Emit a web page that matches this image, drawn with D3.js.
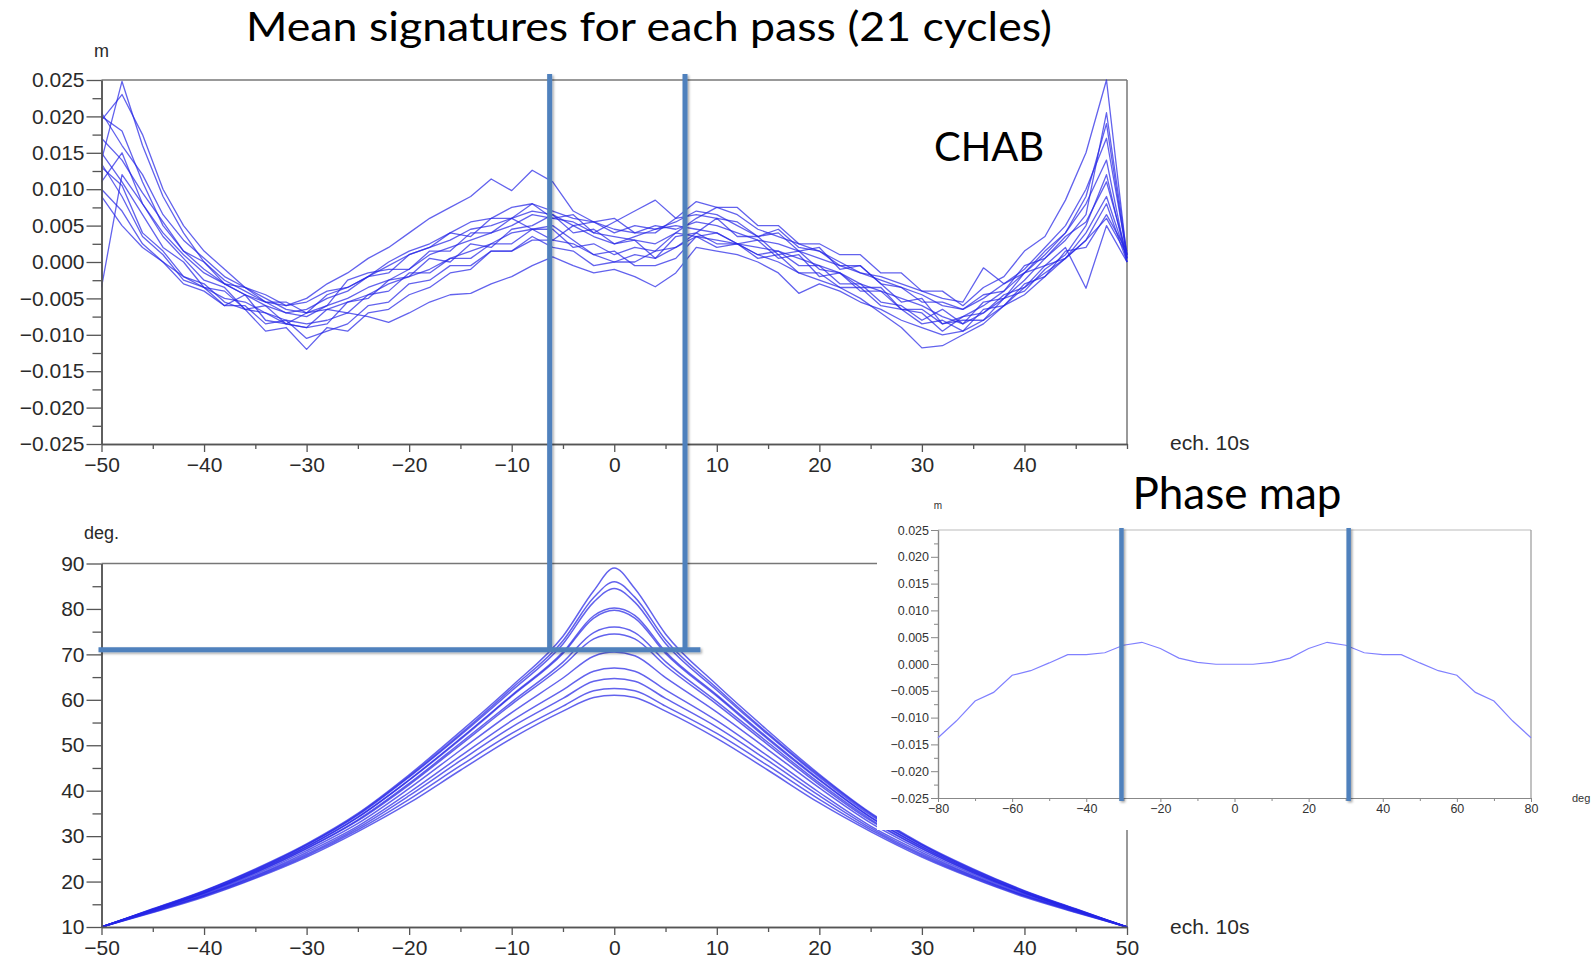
<!DOCTYPE html>
<html><head><meta charset="utf-8">
<script src="https://cdn.jsdelivr.net/npm/d3@7/dist/d3.min.js"></script>
<style>body{margin:0;background:#fff}svg{display:block}</style>
</head><body>
<svg id="c" width="1592" height="960"></svg>
<script>
// ---------- DATA ----------
// Top chart: mean signatures (values in mm, i.e. metres x 1000), sampled every 2 "ech. 10s"
const sigX = [-50,-48,-46,-44,-42,-40,-38,-36,-34,-32,-30,-28,-26,-24,-22,-20,-18,-16,-14,-12,-10,-8,-6,-4,-2,0,2,4,6,8,10,12,14,16,18,20,22,24,26,28,30,32,34,36,38,40,42,44,46,48,50];
const sig01 = [20,18,11,5,1.5,-1,-3,-4.5,-5.5,-6,-5,-3,-1.5,0.5,2,4,6,7.5,9,11.4,9.8,12.6,11,7,5.5,4,5,4.5,5.5,7,6.5,5,3.5,4,1.5,2,-1,-0.5,-3,-5.5,-5,-8.5,-7.5,-6,-4,-1.5,1,4,9,19,0.5];
const sig02 = [9,5,2,0,-2,-3.5,-5,-5.5,-7,-8,-8.5,-8,-7,-7.5,-8.3,-7,-5.5,-4.5,-4.3,-3,-2,-0.5,0.7,-0.5,-1.5,-1,-2,-3.4,-1.5,2,1.5,1,0,-1.5,-4.3,-3,-4,-5.5,-6.5,-8,-9,-10,-9.5,-8,-6,-4.5,-2,0.5,3,6,1];
const sig03 = [-3.5,12,8,3.5,0.5,-2.5,-3.5,-6.5,-6,-8.5,-9,-8.5,-5.5,-5,-2.5,-2,0.5,0,2.5,2,4.5,5,6.5,4,4.5,2.5,3,0.5,3.5,4,6,3.5,3.5,1,1.5,-1,-1.5,-3.5,-3.5,-6.5,-7,-9.5,-7.5,-7,-4.5,-3.5,-0.5,0.5,4,9,0.5];
const sig04 = [14,24.8,16,9,4,0,-2.5,-4,-5.5,-7,-7.5,-6,-5,-3.5,-2.5,-1,1,2,3,4,5,6.5,6,5.5,4,3.5,3,2.5,4,6,7.5,6.5,4.5,3.5,2.5,1.5,0,-1.5,-2.5,-3.5,-4.5,-6,-6.5,-5,-3,-1.5,1.5,4,8,14,0];
const sig05 = [13,10.5,4,1.5,-2,-3,-5.5,-6.5,-9.5,-9,-12,-9,-9.5,-7,-6.5,-4.5,-3.5,-1.5,-1,1.5,1.5,3.5,2,1.5,-0.5,0,0,1.5,2,4,2.5,2.5,0.5,1,-1.5,-1.5,-3.5,-3.5,-6,-6.5,-8.5,-8,-9.5,-6.5,-6,-3,-2,1.5,2,6.5,1.5];
const sig06 = [11,15,8,4,1,-1.5,-3,-4.5,-6,-7,-6.5,-5,-4,-2,-0.5,1,2,3,4.5,5,6,7,6.5,5,3.5,2.5,3.5,4.5,5,4.5,4,2.5,1,0,-1.5,-2.5,-3.5,-5,-7,-9,-11.8,-11.5,-10,-8.5,-6,-3.5,-1.5,0.5,3,8,0];
const sig07 = [17,14,9.5,5.5,1.5,0,-3,-3.5,-5.5,-5.5,-7,-4.5,-3.5,-2,-1.5,1,2,4,3.5,6,6,8,6,6.5,4,5.5,7,8.5,6,8.3,7.5,7.5,5,5,2.5,2.5,1,1,-1.5,-1.5,-4,-4,-6,-3.5,-2,1.5,3.5,8.5,15,25,0.5];
const sig08 = [19.5,23,17.5,10,5,1.5,-1,-3.5,-5,-6.5,-7,-6.5,-5.5,-4.5,-3,-2,-1,0.5,1.5,2.5,4,4.5,5,3,1,0,1,0.5,2,3.5,3,2.5,2,1.5,0.5,-0.5,-1.5,-3,-4,-5,-6,-7.5,-8.5,-7,-5,-2.5,0.5,3,6.5,20.5,1];
const sig09 = [13.5,9,3.5,1,-2.5,-3.5,-6,-4.5,-8,-8.5,-9,-6.5,-7,-4.5,-4,-1.5,-1.5,0.5,0.5,2.5,2.5,4.5,3,2.5,1,1.5,-0.5,-0.5,0.5,3.5,2,2.5,1,1.5,-0.5,-0.5,-3,-3,-5.5,-6,-8,-6.5,-8.5,-5.5,-5,-1.5,-0.5,2,-3.6,5,0];
const sig10 = [20.5,16,12,6.5,3,0.5,-2,-3.5,-4.5,-6,-5.5,-4,-3.5,-2,0,1.5,2.5,4,5.5,6,7.5,8,7,6,5.5,4.5,4,5,4.5,5.5,5,4,3,2.5,1.5,0.5,-0.5,-1.5,-2,-3,-4,-5,-5.5,-0.8,-3,-1,2,5,10,17,1];
const sig11 = [10,7,2.5,0,-3,-4,-6,-6,-8.5,-8,-10.5,-9.5,-8.5,-6,-5.5,-3,-2.5,-0.5,-0.5,1.5,1.5,3,3,5,5.5,6,4,4,6,6.5,6,5.5,3.5,4.5,2,1.5,-0.5,-0.5,-3,-3.5,-5.5,-5.5,-6.5,-4.5,-4,-0.5,0.5,3.5,5.5,11,1];
const sig12 = [15,11,6.5,2,0,-3.5,-4,-6.5,-7,-8.5,-7,-6,-2.5,-1.5,-1,-1,1.5,1.5,4,4,6,4.5,4.5,2,2.5,1,2,1.5,4,3.5,4,2.5,3,0.5,1,-2,-1.5,-4,-4,-6.5,-6.5,-8.5,-8,-8,-5,-4,-1,1,5,12,0];
const sigSeries = [sig01,sig02,sig03,sig04,sig05,sig06,sig07,sig08,sig09,sig10,sig11,sig12];

// Bottom chart: elevation (deg.) per pass
const elevX = [-50,-45,-40,-35,-30,-25,-20,-15,-10,-5,-2,0,2,5,10,15,20,25,30,35,40,45,50];
const elev01 = [10,14,18,22.8,28.3,35,43.5,53,63,74,84,89,84.5,74.5,63.3,53.2,43.6,35.1,28.3,22.8,18,14,10];
const elev02 = [10,13.9,17.9,22.6,28.1,34.8,43.2,52.5,62.5,73,82.5,86,82.6,73.2,62.6,52.6,43.3,34.9,28.1,22.6,17.9,13.9,10];
const elev03 = [10,13.9,17.8,22.5,28,34.6,43,52.2,62,72.3,81.5,84.5,81.5,72.4,62.1,52.3,43,34.6,28,22.5,17.8,13.9,10];
const elev04 = [10,13.8,17.6,22.3,27.7,34.2,42.4,51.5,61,70.5,78.5,80.2,78.6,70.6,61.1,51.6,42.5,34.2,27.7,22.3,17.6,13.8,10];
const elev05 = [10,13.8,17.6,22.2,27.6,34.1,42.3,51.3,60.8,70.2,78,79.7,78,70.2,60.8,51.3,42.3,34.1,27.6,22.2,17.6,13.8,10];
const elev06 = [10,13.7,17.5,22,27.3,33.6,41.6,50.5,59.5,68.3,74.8,76,74.8,68.4,59.6,50.6,41.7,33.7,27.3,22,17.5,13.7,10];
const elev07 = [10,13.7,17.4,21.9,27.2,33.4,41.3,50.1,59,67.5,73.4,74.5,73.4,67.5,59,50.1,41.3,33.4,27.2,21.9,17.4,13.7,10];
const elev08 = [10,13.6,17.2,21.6,26.8,32.8,40.5,48.9,57.2,64.8,69.6,70.5,69.7,64.9,57.3,49,40.6,32.9,26.8,21.6,17.2,13.6,10];
const elev09 = [10,13.5,17,21.3,26.4,32.2,39.6,47.6,55.4,62.2,66.3,67,66.3,62.2,55.4,47.6,39.6,32.2,26.4,21.3,17,13.5,10];
const elev10 = [10,13.4,16.9,21.1,26,31.8,38.9,46.6,54,60.3,64.1,64.7,64.1,60.3,54,46.6,38.9,31.8,26,21.1,16.9,13.4,10];
const elev11 = [10,13.3,16.8,20.9,25.7,31.4,38.1,45.5,52.6,58.6,62,62.5,62,58.6,52.6,45.5,38.1,31.4,25.7,20.9,16.8,13.3,10];
const elev12 = [10,13.2,16.6,20.7,25.4,31,37.3,44.5,51.5,57.5,60.5,61,60.5,57.5,51.5,44.5,37.3,31,25.4,20.7,16.6,13.2,10];
const elevSeries = [elev01,elev02,elev03,elev04,elev05,elev06,elev07,elev08,elev09,elev10,elev11,elev12];

// Inset: phase map (mm)
const phaseX = [-80,-75,-70,-65,-60,-55,-50,-45,-40,-35,-30,-25,-20,-15,-10,-5,0,5,10,15,20,25,30,35,40,45,50,55,60,65,70,75,80];
const phaseY = [-13.75,-10.6,-6.9,-5.3,-2.1,-1.25,0.2,1.75,1.75,2.1,3.5,4.05,2.9,1.1,0.3,-0.05,-0.05,-0.05,0.3,1.1,2.9,4.05,3.5,2.1,1.75,1.75,0.2,-1.25,-2.1,-5.3,-6.9,-10.6,-13.75];

// Ticks & labels
const topYTicks = [0.025,0.020,0.015,0.010,0.005,0,-0.005,-0.010,-0.015,-0.020,-0.025];
const topYLabels = ["0.025","0.020","0.015","0.010","0.005","0.000","\u22120.005","\u22120.010","\u22120.015","\u22120.020","\u22120.025"];
const topYMinor = [0.0225,0.0175,0.0125,0.0075,0.0025,-0.0025,-0.0075,-0.0125,-0.0175,-0.0225];
const topXTicks = [-50,-40,-30,-20,-10,0,10,20,30,40];
const topXLabels = ["\u221250","\u221240","\u221230","\u221220","\u221210","0","10","20","30","40"];
const xMinor = [-45,-35,-25,-15,-5,5,15,25,35,45];
const botYTicks = [10,20,30,40,50,60,70,80,90];
const botYLabels = ["10","20","30","40","50","60","70","80","90"];
const botYMinor = [15,25,35,45,55,65,75,85];
const botXTicks = [-50,-40,-30,-20,-10,0,10,20,30,40,50];
const botXLabels = ["\u221250","\u221240","\u221230","\u221220","\u221210","0","10","20","30","40","50"];
const insYTicks = topYTicks, insYLabels = topYLabels, insYMinor = topYMinor;
const insXTicks = [-80,-60,-40,-20,0,20,40,60,80];
const insXLabels = ["\u221280","\u221260","\u221240","\u221220","0","20","40","60","80"];
const insXMinor = [-70,-50,-30,-10,10,30,50,70];

// Overlay markers
const markX = [-6.3, 6.9];          // ech. 10s
const markDeg = 71;                 // deg.
const phaseMarkX = [-30.5, 30.8];   // deg

// ---------- DRAW ----------
const svg = d3.select('#c');
const AX = "'Liberation Sans', Arial, sans-serif";
const TT = "Lato, 'Open Sans', sans-serif";
const LINE = "#2626e6";

svg.append('rect').attr('width',1592).attr('height',960).attr('fill','#fff');
const defs = svg.append('defs');
const f = defs.append('filter').attr('id','sh').attr('x','-50%').attr('y','-5%').attr('width','200%').attr('height','110%');
f.append('feDropShadow').attr('dx',1.5).attr('dy',1.5).attr('stdDeviation',1.2).attr('flood-color','#000').attr('flood-opacity',0.35);

function styleAxis(g, fs){
  g.select('.domain').attr('stroke','#555').attr('stroke-width',1.5);
  g.selectAll('.tick line').attr('stroke','#555').attr('stroke-width',1.3);
  g.selectAll('.tick text').attr('font-family',AX).attr('font-size',fs).attr('fill','#2a2a2a');
}

// ----- Top chart -----
const xT = d3.scaleLinear().domain([-50,50]).range([101.5,1127]);
const yT = d3.scaleLinear().domain([-0.025,0.025]).range([444,80]);
const gT = svg.append('g');
gT.append('line').attr('x1',xT(-50)).attr('x2',xT(50)).attr('y1',yT(0.025)).attr('y2',yT(0.025)).attr('stroke','#777').attr('stroke-width',1.5);
gT.append('line').attr('x1',xT(50)).attr('x2',xT(50)).attr('y1',yT(0.025)).attr('y2',yT(-0.025)).attr('stroke','#777').attr('stroke-width',1.5);
const lineT = d3.line().x((d,i)=>xT(sigX[i])).y(d=>yT(d*1e-3));
gT.selectAll('path.sig').data(sigSeries).join('path').attr('class','sig')
  .attr('d',lineT).attr('fill','none').attr('stroke',LINE).attr('stroke-opacity',0.72).attr('stroke-width',1.3).attr('stroke-linejoin','round');
let a;
a = gT.append('g').attr('transform',`translate(${xT(-50)},0)`).call(d3.axisLeft(yT).tickValues(topYMinor).tickSize(9).tickFormat('').tickSizeOuter(0)); styleAxis(a,21);
a = gT.append('g').attr('transform',`translate(${xT(-50)},0)`).call(d3.axisLeft(yT).tickValues(topYTicks).tickSize(15).tickPadding(2).tickSizeOuter(0).tickFormat((d,i)=>topYLabels[i])); styleAxis(a,21);
a = gT.append('g').attr('transform',`translate(0,${yT(-0.025)})`).call(d3.axisBottom(xT).tickValues(xMinor.concat([50])).tickSize(5).tickFormat('').tickSizeOuter(0)); styleAxis(a,21);
a = gT.append('g').attr('transform',`translate(0,${yT(-0.025)})`).call(d3.axisBottom(xT).tickValues(topXTicks).tickSize(8).tickPadding(5).tickSizeOuter(0).tickFormat((d,i)=>topXLabels[i])); styleAxis(a,21);
gT.append('text').attr('x',xT(-50)).attr('y',57).attr('text-anchor','middle').attr('font-family',AX).attr('font-size',18).attr('fill','#2a2a2a').text('m');
gT.append('text').attr('x',1170).attr('y',450).attr('font-family',AX).attr('font-size',21).attr('fill','#2a2a2a').text('ech. 10s');
gT.append('text').attr('x',934).attr('y',161).attr('font-family',TT).attr('font-size',40).attr('fill','#000').text('CHAB');

// ----- Bottom chart -----
const xB = d3.scaleLinear().domain([-50,50]).range([101.5,1127]);
const yB = d3.scaleLinear().domain([10,90]).range([927,563.5]);
const gB = svg.append('g');
gB.append('line').attr('x1',xB(-50)).attr('x2',xB(50)).attr('y1',yB(90)).attr('y2',yB(90)).attr('stroke','#777').attr('stroke-width',1.5);
gB.append('line').attr('x1',xB(50)).attr('x2',xB(50)).attr('y1',yB(90)).attr('y2',yB(10)).attr('stroke','#777').attr('stroke-width',1.5);
const lineB = d3.line().x((d,i)=>xB(elevX[i])).y(d=>yB(d)).curve(d3.curveMonotoneX);
gB.selectAll('path.el').data(elevSeries).join('path').attr('class','el')
  .attr('d',lineB).attr('fill','none').attr('stroke',LINE).attr('stroke-opacity',0.72).attr('stroke-width',1.5);
a = gB.append('g').attr('transform',`translate(${xB(-50)},0)`).call(d3.axisLeft(yB).tickValues(botYMinor).tickSize(9).tickFormat('').tickSizeOuter(0)); styleAxis(a,21);
a = gB.append('g').attr('transform',`translate(${xB(-50)},0)`).call(d3.axisLeft(yB).tickValues(botYTicks).tickSize(15).tickPadding(2).tickSizeOuter(0).tickFormat((d,i)=>botYLabels[i])); styleAxis(a,21);
a = gB.append('g').attr('transform',`translate(0,${yB(10)})`).call(d3.axisBottom(xB).tickValues(xMinor).tickSize(5).tickFormat('').tickSizeOuter(0)); styleAxis(a,21);
a = gB.append('g').attr('transform',`translate(0,${yB(10)})`).call(d3.axisBottom(xB).tickValues(botXTicks).tickSize(8).tickPadding(5).tickSizeOuter(0).tickFormat((d,i)=>botXLabels[i])); styleAxis(a,21);
gB.append('text').attr('x',xB(-50)).attr('y',539).attr('text-anchor','middle').attr('font-family',AX).attr('font-size',18).attr('fill','#2a2a2a').text('deg.');
gB.append('text').attr('x',1170).attr('y',934).attr('font-family',AX).attr('font-size',21).attr('fill','#2a2a2a').text('ech. 10s');

// ----- Overlay markers on main charts -----
const gM = svg.append('g').attr('filter','url(#sh)');
gM.selectAll('line.v').data(markX).join('line').attr('class','v')
  .attr('x1',d=>xT(d)).attr('x2',d=>xT(d)).attr('y1',yT(0.025)-6).attr('y2',yB(markDeg))
  .attr('stroke','#4f81bd').attr('stroke-width',5);
gM.append('line').attr('x1',xB(-50)-3).attr('x2',xB(8.4)).attr('y1',yB(markDeg)).attr('y2',yB(markDeg))
  .attr('stroke','#4f81bd').attr('stroke-width',5);

// ----- Title -----
svg.append('text').attr('x',649).attr('y',41).attr('text-anchor','middle').attr('font-family',TT).attr('font-size',40)
  .attr('textLength',806).attr('lengthAdjust','spacingAndGlyphs').attr('fill','#000')
  .text('Mean signatures for each pass (21 cycles)');

// ----- Inset: Phase map -----
svg.append('rect').attr('x',877).attr('y',500).attr('width',715).attr('height',330).attr('fill','#fff');
const xP = d3.scaleLinear().domain([-80,80]).range([938,1531]);
const yP = d3.scaleLinear().domain([-0.025,0.025]).range([798,530]);
const gP = svg.append('g');
gP.append('line').attr('x1',xP(-80)).attr('x2',xP(80)).attr('y1',yP(0.025)).attr('y2',yP(0.025)).attr('stroke','#bbb').attr('stroke-width',1.2);
gP.append('line').attr('x1',xP(80)).attr('x2',xP(80)).attr('y1',yP(0.025)).attr('y2',yP(-0.025)).attr('stroke','#999').attr('stroke-width',1.2);
function styleInset(g){
  g.select('.domain').attr('stroke','#888').attr('stroke-width',1.2);
  g.selectAll('.tick line').attr('stroke','#888').attr('stroke-width',1);
  g.selectAll('.tick text').attr('font-family',AX).attr('font-size',12.5).attr('fill','#333');
}
a = gP.append('g').attr('transform',`translate(${xP(-80)},0)`).call(d3.axisLeft(yP).tickValues(insYMinor).tickSize(4).tickFormat('').tickSizeOuter(0)); styleInset(a);
a = gP.append('g').attr('transform',`translate(${xP(-80)},0)`).call(d3.axisLeft(yP).tickValues(insYTicks).tickSize(7).tickPadding(2).tickSizeOuter(0).tickFormat((d,i)=>insYLabels[i])); styleInset(a);
a = gP.append('g').attr('transform',`translate(0,${yP(-0.025)})`).call(d3.axisBottom(xP).tickValues(insXMinor).tickSize(3).tickFormat('').tickSizeOuter(0)); styleInset(a);
a = gP.append('g').attr('transform',`translate(0,${yP(-0.025)})`).call(d3.axisBottom(xP).tickValues(insXTicks).tickSize(4).tickPadding(2).tickSizeOuter(0).tickFormat((d,i)=>insXLabels[i])); styleInset(a);
const lineP = d3.line().x((d,i)=>xP(phaseX[i])).y(d=>yP(d*1e-3));
gP.append('path').datum(phaseY).attr('d',lineP).attr('fill','none').attr('stroke','#8080ff').attr('stroke-width',1.2);
gP.append('text').attr('x',xP(-80)).attr('y',509).attr('text-anchor','middle').attr('font-family',AX).attr('font-size',10).attr('fill','#333').text('m');
gP.append('text').attr('x',1572).attr('y',802).attr('font-family',AX).attr('font-size',11).attr('fill','#333').text('deg');
const gPM = gP.append('g').attr('filter','url(#sh)');
gPM.selectAll('line').data(phaseMarkX).join('line')
  .attr('x1',d=>xP(d)).attr('x2',d=>xP(d)).attr('y1',yP(0.025)-2).attr('y2',yP(-0.025)+3)
  .attr('stroke','#4f81bd').attr('stroke-width',4.5);
svg.append('text').attr('x',1237).attr('y',509).attr('text-anchor','middle').attr('font-family',TT).attr('font-size',44).attr('fill','#000').text('Phase map');
</script>
</body></html>
